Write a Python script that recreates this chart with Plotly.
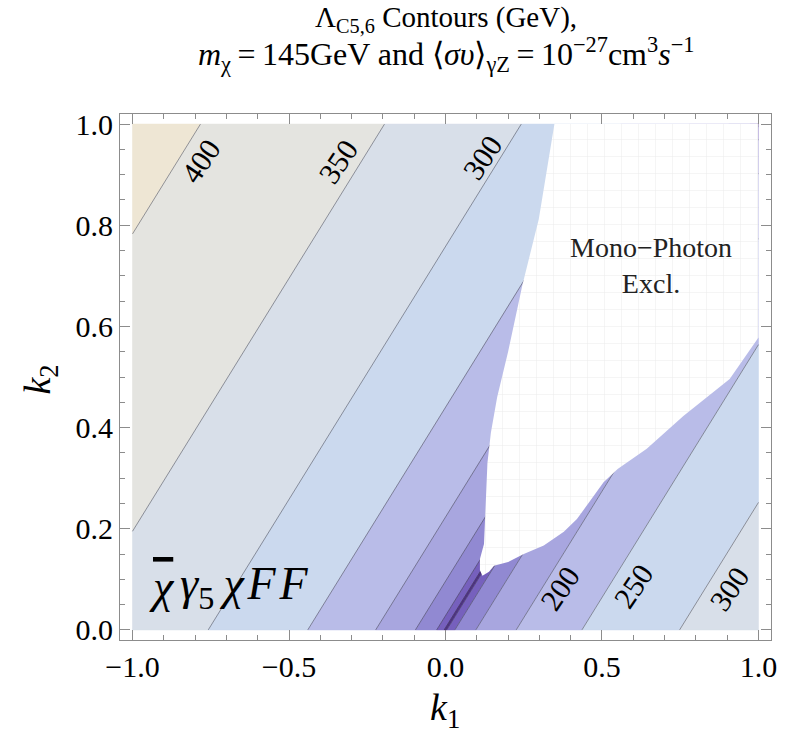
import plotly.graph_objects as go

# ---------------- data ----------------
LAMBDA_LEVELS = [50, 100, 150, 200, 250, 300, 350, 400]          # GeV
# k1 at which each Lambda contour meets k2 = 0 (side k1 < k2, side k1 > k2)
K1_CROSS_LEFT = [-0.004, -0.028, -0.096, -0.223, -0.440, -0.758, -1.195, -1.783]
K1_CROSS_RIGHT = [0.004, 0.030, 0.097, 0.226, 0.436, 0.748, 1.190, 1.780]
CONTOUR_DK1_PER_DK2 = 1.0   # the contours run parallel to k1 = k2

# mono-photon excluded region boundary (k1, k2)
EXCL_K1 = [0.348, 0.298, 0.245, 0.200, 0.165, 0.145, 0.134, 0.128, 0.123, 0.110,
           0.110, 0.118, 0.139, 0.155, 0.200, 0.250, 0.314, 0.378, 0.420, 0.505,
           0.550, 0.643, 0.760, 0.908, 1.000, 1.000]
EXCL_K2 = [1.000, 0.812, 0.680, 0.550, 0.460, 0.390, 0.330, 0.250, 0.170, 0.140,
           0.118, 0.107, 0.115, 0.127, 0.134, 0.150, 0.167, 0.194, 0.219, 0.292,
           0.318, 0.358, 0.423, 0.496, 0.578, 1.000]

# contour labels: text, k1, k2
LABEL_TEXT = ["400", "350", "300", "200", "250", "300"]
LABEL_K1 = [-0.784, -0.344, 0.118, 0.366, 0.602, 0.908]
LABEL_K2 = [0.927, 0.927, 0.934, 0.081, 0.087, 0.081]

X_TICKS = [-1.0, -0.5, 0.0, 0.5, 1.0]
X_TICK_TEXT = ["\u22121.0", "\u22120.5", "0.0", "0.5", "1.0"]
Y_TICKS = [0.0, 0.2, 0.4, 0.6, 0.8, 1.0]
Y_TICK_TEXT = ["0.0", "0.2", "0.4", "0.6", "0.8", "1.0"]

# ---------------- styles ----------------
# band colours, from below the lowest level up to above the highest level
BAND_COLORS = ["#4e2f86", "#7660bd", "#9189d2", "#a8a6df", "#b9bce8",
               "#cbd9ee", "#d8dfe9", "#e4e4e0", "#eee6d4"]
SERIF = "Liberation Serif"
BOX = [(-1.0, 0.0), (1.0, 0.0), (1.0, 1.0), (-1.0, 1.0)]


def clip(poly, a, b, c):
    """keep part of polygon with a*x + b*y + c >= 0"""
    out = []
    n = len(poly)
    for i in range(n):
        p, q = poly[i], poly[(i + 1) % n]
        fp = a * p[0] + b * p[1] + c
        fq = a * q[0] + b * q[1] + c
        if fp >= 0:
            out.append(p)
        if (fp >= 0) != (fq >= 0):
            t = fp / (fp - fq)
            out.append((p[0] + t * (q[0] - p[0]), p[1] + t * (q[1] - p[1])))
    return out


s = CONTOUR_DK1_PER_DK2
bounds = list(reversed(K1_CROSS_LEFT)) + K1_CROSS_RIGHT
n = len(LAMBDA_LEVELS)
band_idx = list(range(n, -1, -1)) + list(range(1, n + 1))
edges = [None] + bounds + [None]

fig = go.Figure()
for i, bi in enumerate(band_idx):
    lo, hi = edges[i], edges[i + 1]
    poly = BOX[:]
    if lo is not None:
        poly = clip(poly, 1.0, -s, -lo)
    if hi is not None:
        poly = clip(poly, -1.0, s, hi)
    if len(poly) < 3:
        continue
    xs = [p[0] for p in poly] + [poly[0][0]]
    ys = [p[1] for p in poly] + [poly[0][1]]
    fig.add_trace(go.Scatter(x=xs, y=ys, mode="lines", fill="toself",
                             fillcolor=BAND_COLORS[bi],
                             line=dict(color=BAND_COLORS[bi], width=0.6),
                             hoverinfo="skip", showlegend=False))

# contour lines
lx, ly = [], []
for c in bounds:
    k2a = max(0.0, (-1.0 - c) / s)
    k2b = min(1.0, (1.0 - c) / s)
    if k2b <= k2a:
        continue
    lx += [c + s * k2a, c + s * k2b, None]
    ly += [k2a, k2b, None]
fig.add_trace(go.Scatter(x=lx, y=ly, mode="lines",
                         line=dict(color="rgba(60,60,70,0.5)", width=1),
                         hoverinfo="skip", showlegend=False))

# excluded region
fig.add_trace(go.Scatter(x=EXCL_K1 + [EXCL_K1[0]], y=EXCL_K2 + [EXCL_K2[0]],
                         mode="lines", fill="toself", fillcolor="white",
                         fillpattern=dict(shape="+", fgcolor="rgba(185,185,185,0.55)",
                                          bgcolor="white", size=17, solidity=0.06),
                         line=dict(color="white", width=0),
                         hoverinfo="skip", showlegend=False))

C = dict(xanchor="center", yanchor="middle", showarrow=False)
ann = []
for t, x, y in zip(LABEL_TEXT, LABEL_K1, LABEL_K2):
    ann.append(dict(x=x, y=y, xref="x", yref="y", text=t, textangle=-56,
                    font=dict(family=SERIF, size=30, color="black"), **C))
ann.append(dict(x=0.656, y=0.721, xref="x", yref="y", text="Mono\u2212Photon<br>Excl.",
                font=dict(family=SERIF, size=28, color="#222"), **C))
# operator label: chi-bar, then gamma_5 chi F F
ann.append(dict(x=-0.953, y=0.085, xref="x", yref="y", xanchor="left", yanchor="middle",
                showarrow=False, text="<i>\u03c7</i>",
                font=dict(family=SERIF, size=46, color="black", lineposition="over")))
ann.append(dict(x=-0.855, y=0.085, xref="x", yref="y", xanchor="left", yanchor="middle",
                showarrow=False,
                text="<i>\u03b3</i><sub>5</sub>\u2009<i>\u03c7</i>\u200a<i>F</i>\u200a<i>F</i>",
                font=dict(family=SERIF, size=46, color="black")))
# title lines
ann.append(dict(x=0.5, y=(640 - 19) / 526, xref="paper", yref="paper",
                text="\u039b<sub>C5,6</sub> Contours (GeV),",
                font=dict(family=SERIF, size=29, color="black"), **C))
ann.append(dict(x=0.5, y=(640 - 55) / 526, xref="paper", yref="paper",
                text="<i>m</i><sub>\u03c7</sub>\u2009=\u2009145GeV and \u27e8<i>\u03c3\u03c5</i>\u27e9"
                     "<sub>\u03b3Z</sub>\u2009=\u200910<sup>\u221227</sup>cm<sup>3</sup>"
                     "<i>s</i><sup>\u22121</sup>",
                font=dict(family=SERIF, size=32, color="black"), **C))
# axis titles
ann.append(dict(x=(447 - 120) / 656, y=(640 - 710) / 526, xref="paper", yref="paper",
                text="<i>k</i><sub>1</sub>", font=dict(family=SERIF, size=38, color="black"), **C))
ann.append(dict(x=(39 - 120) / 656, y=(640 - 380) / 526, xref="paper", yref="paper",
                textangle=-90, text="<i>k</i><sub>2</sub>",
                font=dict(family=SERIF, size=38, color="black"), **C))

axis_common = dict(showgrid=False, zeroline=False, showline=True, linecolor="#8c8c8c",
                   linewidth=1, mirror="ticks", ticks="inside", ticklen=10,
                   tickcolor="#8c8c8c", tickwidth=1,
                   tickfont=dict(family=SERIF, size=30, color="black"))

fig.update_layout(
    width=789, height=736,
    margin=dict(l=120, r=13, t=114, b=96),
    plot_bgcolor="white", paper_bgcolor="white",
    xaxis=dict(range=[-1.04, 1.04], tickvals=X_TICKS, ticktext=X_TICK_TEXT,
               minor=dict(dtick=0.1, ticks="inside", ticklen=5, tickcolor="#8c8c8c"),
               **axis_common),
    yaxis=dict(range=[-0.02, 1.02], tickvals=Y_TICKS, ticktext=Y_TICK_TEXT,
               minor=dict(dtick=0.05, ticks="inside", ticklen=5, tickcolor="#8c8c8c"),
               **axis_common),
    annotations=ann,
    showlegend=False,
)

fig.write_html("out.html")
